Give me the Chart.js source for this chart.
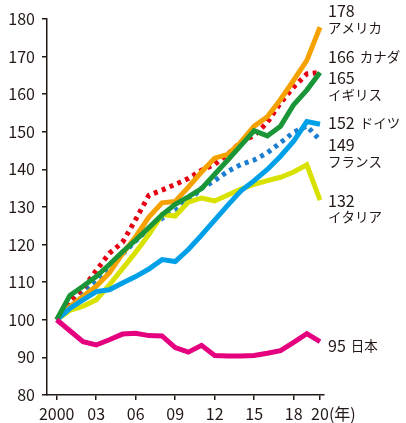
<!DOCTYPE html>
<html>
<head>
<meta charset="utf-8">
<script src="https://cdn.jsdelivr.net/npm/chart.js@4"></script>
<style>
html,body{margin:0;padding:0;background:#fff;}
#wrap{width:406px;height:423px;position:relative;}
</style>
</head>
<body>
<div id="wrap"><canvas id="c" width="406" height="423"></canvas></div>
<script>
// ---- data ----
const years = [2000,2001,2002,2003,2004,2005,2006,2007,2008,2009,2010,2011,2012,2013,2014,2015,2016,2017,2018,2019,2020];
const america = [100,103.5,106.3,108.9,112.5,117.6,122.1,127.3,131.1,131.5,135.3,139.3,143,144,147.3,151.5,154,158.6,163.7,169,177.8];
const canada  = [100,105,108.4,113.1,117.7,120.6,126.7,133.1,134.5,136,137.6,139.8,141.3,144.1,147.3,149,152.5,157.7,161.9,165.4,165.8];
const uk      = [100,106.5,108.9,111.5,114.7,118.1,121.2,124.5,127.9,130.7,132.7,134.9,138.7,142.5,146.4,150.3,148.9,151.5,157.2,161.1,165.8];
const germany = [100,103,105.3,107.5,108,109.8,111.5,113.5,116,115.5,118.7,122.5,126.5,130.5,134.3,137,140,143.5,147.5,152.7,152];
const france  = [100,104,107.5,110.5,114,117.5,121,124.3,127,129,131.5,135,137,139.5,141.3,142.5,144.4,147.1,149.9,151.5,147.8];
const italy   = [100,102.5,103.6,105.3,109.3,113.6,118,122.7,128,127.6,131.3,132.4,131.6,133.2,134.8,136,137,137.9,139.3,141.2,131.8];
const japan   = [100,97.1,94.2,93.3,94.7,96.2,96.4,95.8,95.7,92.6,91.4,93.2,90.5,90.4,90.4,90.5,91.1,91.8,94,96.3,94.2];

const countryNames = ["日本","イギリス","ドイツ","アメリカ","カナダ","イタリア","フランス"];
const endValues    = ["95","165","152","178","166","132","149"];
const xTickValues  = [2000,2003,2006,2009,2012,2015,2018,2020];
const xTickLabels  = ["2000","03","06","09","12","15","18","20"];
const xUnit = "(年)";
const yTickMin = 80, yTickMax = 180, yTickStep = 10;

// ---- styles / layout (kept apart from data) ----
const seriesList = [japan, uk, germany, america, canada, italy, france];
const colors = ["#E4007F","#1A9639","#00A0E9","#F5A200","#E60012","#D9E100","#1B7ED0"];
const dashed = [false,false,false,false,true,false,true];
// label anchor (y value at centre of first line) and whether the name is on the same line
const labelAnchor = [93.1, 164.3, 152.4, 182.1, 170.0, 131.7, 146.4];
const labelInline = [true, false, true, false, true, false, false];
const INK = "#231815";
const FAMILY = '"Noto Sans CJK JP", sans-serif';
const NUMFONT = '16px ' + FAMILY;
const JPFONT = '13.5px ' + FAMILY;

const datasets = seriesList.map((s, i) => ({
  label: countryNames[i],
  data: years.map((y, k) => ({x: y, y: s[k]})),
  borderColor: colors[i],
  backgroundColor: colors[i],
  borderWidth: 5,
  borderDash: dashed[i] ? [4, 4.5] : [],
  pointRadius: 0,
  tension: 0,
  fill: false
}));

const endLabelPlugin = {
  id: 'endLabels',
  afterDraw(chart) {
    const ctx = chart.ctx;
    const ys = chart.scales.y;
    const xs = chart.scales.x;
    const x0 = chart.chartArea.right + 4;
    ctx.save();
    ctx.fillStyle = INK;
    ctx.textBaseline = 'middle';
    ctx.textAlign = 'left';
    countryNames.forEach((name, i) => {
      const yc = ys.getPixelForValue(labelAnchor[i]);
      ctx.font = NUMFONT;
      ctx.fillText(endValues[i], x0, yc);
      if (labelInline[i]) {
        const w = ctx.measureText(endValues[i]).width;
        ctx.font = JPFONT;
        ctx.fillText(name, x0 + w + 5, yc);
      } else {
        ctx.font = JPFONT;
        ctx.fillText(name, x0, yc + 16.5);
      }
    });
    // axis unit "(年)" right after the last x tick label
    const items = xs.getLabelItems();
    const last = items[items.length - 1];
    if (last) {
      ctx.font = '16px ' + FAMILY;
      const w = ctx.measureText(xTickLabels[xTickLabels.length - 1]).width;
      ctx.textBaseline = last.options.textBaseline || 'middle';
      ctx.fillText(xUnit, last.options.translation[0] + w / 2, last.options.translation[1] + (last.textOffset || 0));
    }
    ctx.restore();
  }
};

new Chart(document.getElementById('c'), {
  type: 'line',
  data: { datasets },
  options: {
    responsive: false,
    animation: false,
    events: [],
    layout: { padding: { left: 0, right: 82, top: 19, bottom: 0 } },
    plugins: { legend: { display: false }, tooltip: { enabled: false } },
    scales: {
      x: {
        type: 'linear',
        min: 1999.263,
        max: 2020.304,
        afterBuildTicks: (scale) => { scale.ticks = xTickValues.map(v => ({value: v})); },
        afterFit: (scale) => { scale.height = 28; },
        ticks: {
          autoSkip: false,
          maxRotation: 0,
          padding: 4,
          color: INK,
          font: { family: FAMILY, size: 16 },
          callback: (v) => { const i = xTickValues.indexOf(v); return i >= 0 ? xTickLabels[i] : ''; }
        },
        grid: { display: true, drawOnChartArea: false, drawTicks: true, tickLength: 5, color: INK, lineWidth: 1.5 },
        border: { display: true, color: INK, width: 1.5 }
      },
      y: {
        type: 'linear',
        min: yTickMin,
        max: yTickMax,
        afterFit: (scale) => { scale.width = 47; },
        ticks: {
          stepSize: yTickStep,
          padding: 7,
          color: INK,
          font: { family: FAMILY, size: 16 }
        },
        grid: { display: true, drawOnChartArea: false, drawTicks: true, tickLength: 5, color: INK, lineWidth: 1.5 },
        border: { display: true, color: INK, width: 1.5 }
      }
    }
  },
  plugins: [endLabelPlugin]
});
</script>
</body>
</html>
